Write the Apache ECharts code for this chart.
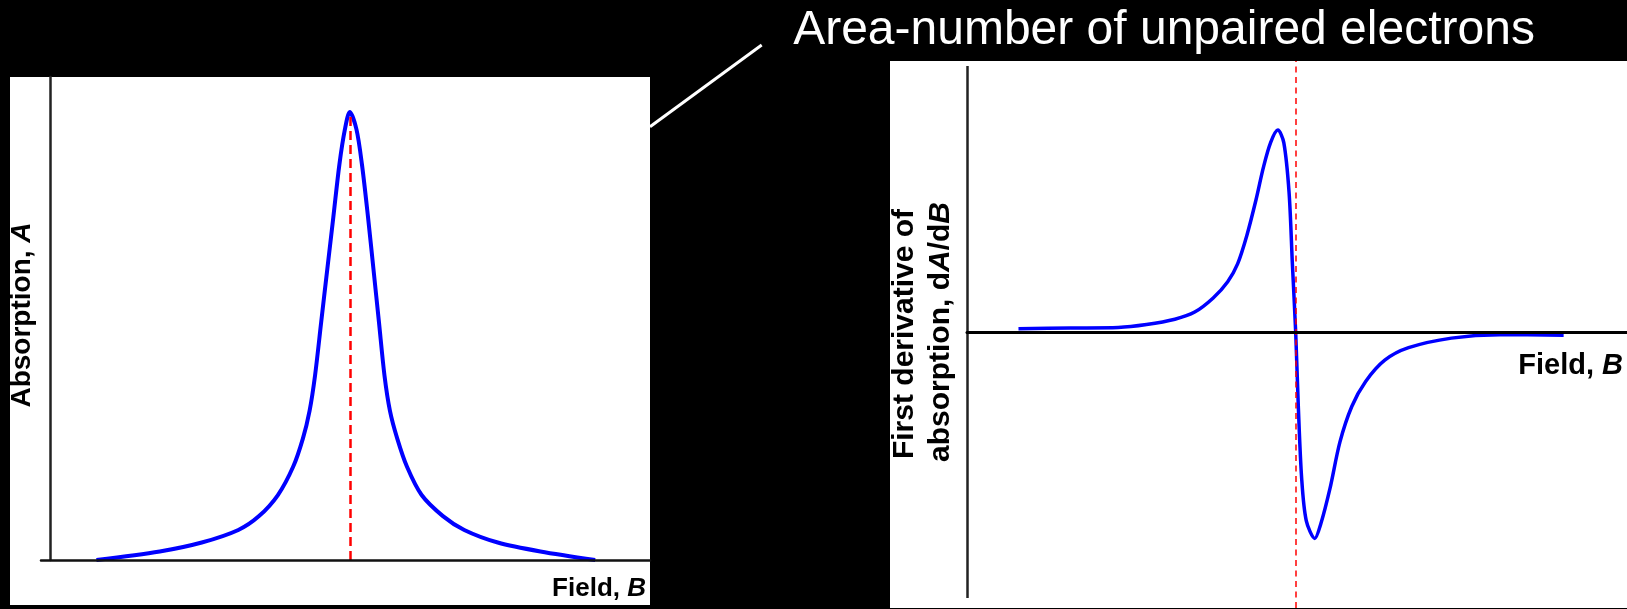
<!DOCTYPE html>
<html>
<head>
<meta charset="utf-8">
<script src="https://cdn.jsdelivr.net/npm/echarts@6/dist/echarts.min.js"></script>
<style>
html,body{margin:0;padding:0;background:#000;}
#chart{width:1627px;height:609px;}
</style>
</head>
<body>
<div id="chart"></div>
<script>
// ---- data (arbitrary field units) ----
const absField = [9.1, 19.5, 26.4, 32.4, 35.8, 38.9, 41.4, 43.0, 44.1, 45.0, 46.0, 47.0, 48.0, 49.0, 49.9, 50.7, 51.8, 52.7, 53.7, 54.6, 55.5, 56.4, 57.3, 58.5, 60.1, 62.5, 66.0, 69.5, 75.0, 82.0, 91.0];
const absValue = [0.000, 0.019, 0.039, 0.067, 0.098, 0.145, 0.208, 0.271, 0.333, 0.412, 0.530, 0.648, 0.765, 0.883, 0.961, 1.000, 0.961, 0.883, 0.765, 0.648, 0.530, 0.412, 0.333, 0.271, 0.208, 0.145, 0.098, 0.067, 0.039, 0.019, 0.000];
const derivField = [7.8, 15.7, 22.9, 27.2, 31.5, 34.5, 37.3, 39.5, 41.0, 42.4, 43.8, 44.9, 46.0, 47.1, 48.0, 48.8, 49.3, 49.8, 50.2, 50.7, 51.4, 52.7, 53.6, 55.0, 56.5, 58.3, 60.4, 63.3, 66.9, 73.4, 80.7, 90.4];
const derivValue = [0.012, 0.015, 0.017, 0.028, 0.048, 0.075, 0.128, 0.189, 0.256, 0.363, 0.498, 0.618, 0.712, 0.759, 0.712, 0.524, 0.256, 0.000, -0.280, -0.548, -0.709, -0.776, -0.722, -0.588, -0.414, -0.280, -0.186, -0.106, -0.059, -0.023, -0.010, -0.012];
const resonanceAbs = 50.7;
const resonanceDeriv = 49.85;
const titleText = 'Area-number of unpaired electrons';

const FONT = '"Liberation Sans", Arial, Helvetica, sans-serif';
const zip = (a, b) => a.map((v, i) => [v, b[i]]);

const chart = echarts.init(document.getElementById('chart'), null, {renderer: 'canvas'});
chart.setOption({
  backgroundColor: '#000',
  animation: false,
  graphic: [
    {type: 'rect', z: -10, shape: {x: 10, y: 77, width: 640, height: 528}, style: {fill: '#fff'}, silent: true},
    {type: 'rect', z: -10, shape: {x: 890, y: 61, width: 737, height: 547}, style: {fill: '#fff'}, silent: true},
    {type: 'line', shape: {x1: 650, y1: 126.7, x2: 761.7, y2: 45}, style: {stroke: '#fff', lineWidth: 3}, silent: true},
    {type: 'text', x: 1164, y: 31, style: {text: titleText, fill: '#fff', font: '48px ' + FONT, align: 'center', verticalAlign: 'middle'}, silent: true},
    {type: 'text', x: 646, y: 589, style: {
      text: '{a|Field, }{b|B}', align: 'right', verticalAlign: 'middle',
      rich: {a: {font: 'bold 26px ' + FONT, fill: '#000'}, b: {font: 'italic bold 26px ' + FONT, fill: '#000'}}
    }, silent: true},
    {type: 'text', x: 1623, y: 366, style: {
      text: '{a|Field, }{b|B}', align: 'right', verticalAlign: 'middle',
      rich: {a: {font: 'bold 29px ' + FONT, fill: '#000'}, b: {font: 'italic bold 29px ' + FONT, fill: '#000'}}
    }, silent: true},
    {type: 'text', x: 22, y: 315, rotation: Math.PI / 2, style: {
      text: '{a|Absorption, }{b|A}', align: 'center', verticalAlign: 'middle',
      rich: {a: {font: 'bold 28px ' + FONT, fill: '#000'}, b: {font: 'italic bold 28px ' + FONT, fill: '#000'}}
    }, silent: true},
    {type: 'text', x: 905, y: 334, rotation: Math.PI / 2, style: {
      text: 'First derivative of', align: 'center', verticalAlign: 'middle',
      font: 'bold 30px ' + FONT, fill: '#000'
    }, silent: true},
    {type: 'text', x: 941, y: 332, rotation: Math.PI / 2, style: {
      text: '{a|absorption, d}{b|A}{a|/d}{b|B}', align: 'center', verticalAlign: 'middle',
      rich: {a: {font: 'bold 30px ' + FONT, fill: '#000'}, b: {font: 'italic bold 30px ' + FONT, fill: '#000'}}
    }, silent: true}
  ],
  grid: [
    {left: 41, top: 77, width: 609, height: 483},
    {left: 967, top: 61, right: 0, bottom: 1}
  ],
  xAxis: [
    {gridIndex: 0, type: 'value', min: 0, max: 100, z: 5,
      axisLine: {show: true, onZero: false, lineStyle: {color: '#111', width: 2.5}},
      axisTick: {show: false}, axisLabel: {show: false}, splitLine: {show: false}},
    {gridIndex: 1, type: 'value', min: 0, max: 100, z: 5,
      axisLine: {show: true, onZero: true, lineStyle: {color: '#000', width: 3}},
      axisTick: {show: false}, axisLabel: {show: false}, splitLine: {show: false}}
  ],
  yAxis: [
    {gridIndex: 0, type: 'value', min: 0, max: 1.078, offset: -9.5,
      axisLine: {show: true, onZero: false, lineStyle: {color: '#222', width: 2.5}},
      axisTick: {show: false}, axisLabel: {show: false}, splitLine: {show: false}},
    {gridIndex: 1, type: 'value', min: -1.0376, max: 1.0188,
      axisLine: {show: false}, axisTick: {show: false}, axisLabel: {show: false}, splitLine: {show: false}}
  ],
  series: [
    {type: 'line', xAxisIndex: 0, yAxisIndex: 0, data: zip(absField, absValue),
      smooth: 0.3, symbol: 'none', clip: false,
      lineStyle: {color: '#0000ff', width: 4},
      markLine: {silent: true, symbol: 'none', label: {show: false},
        lineStyle: {color: '#ff0000', width: 2.5, type: [9, 5]},
        data: [[{coord: [resonanceAbs, 0]}, {coord: [resonanceAbs, 1.0]}]]}
    },
    {type: 'line', xAxisIndex: 1, yAxisIndex: 1, data: zip(derivField, derivValue),
      smooth: 0.3, symbol: 'none', clip: false,
      lineStyle: {color: '#0000ff', width: 3.5},
      markLine: {silent: true, symbol: 'none', label: {show: false}, animation: false,
        data: [
          [{coord: [0, -1.0], lineStyle: {color: '#222', width: 2.5, type: 'solid'}}, {coord: [0, 1.0]}],
          [{coord: [resonanceDeriv, -1.0376], lineStyle: {color: '#ff0000', width: 1.5, type: [6, 4.5]}}, {coord: [resonanceDeriv, 1.0188]}]
        ]}
    }
  ]
});
</script>
</body>
</html>
